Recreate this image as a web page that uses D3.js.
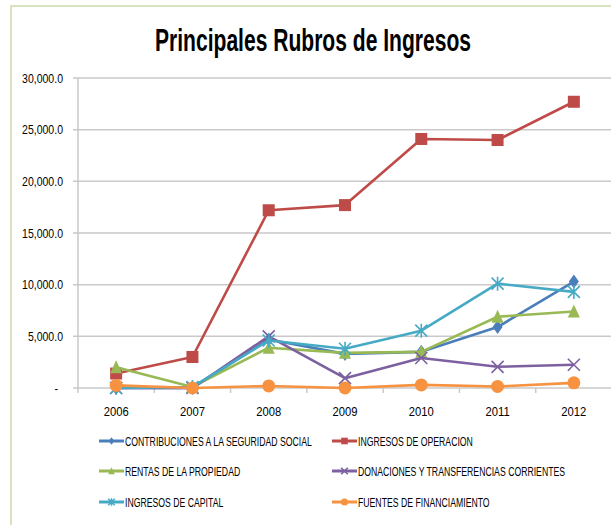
<!DOCTYPE html>
<html><head><meta charset="utf-8">
<script src="https://cdn.jsdelivr.net/npm/d3@7"></script>
<style>
body{margin:0;background:#fff;}
svg{display:block;}
</style></head>
<body>
<svg id="chart" width="611" height="525"></svg>
<script>
const years = ["2006","2007","2008","2009","2010","2011","2012"];
const seriesNames = [
  "CONTRIBUCIONES A LA SEGURIDAD SOCIAL",
  "INGRESOS DE OPERACION",
  "RENTAS DE LA PROPIEDAD",
  "DONACIONES Y TRANSFERENCIAS CORRIENTES",
  "INGRESOS DE CAPITAL",
  "FUENTES DE FINANCIAMIENTO"
];
const contribuciones = [0, 0, 4700, 3300, 3500, 5900, 10300];
const operacion      = [1400, 3000, 17200, 17700, 24100, 24000, 27700];
const rentas         = [2000, 100, 3900, 3400, 3500, 6900, 7400];
const donaciones     = [0, 0, 5000, 950, 2900, 2050, 2250];
const capital        = [0, 100, 4600, 3800, 5550, 10100, 9300];
const fuentes        = [250, 0, 200, 0, 300, 150, 500];
const yTicks = [0, 5000, 10000, 15000, 20000, 25000, 30000];
const colors = ["#4A7EBB", "#BE4B48", "#98B954", "#7D60A0", "#46AAC5", "#F69240"];
const markers = ["diamond", "square", "triangle", "x", "star", "circle"];
const seriesValues = [contribuciones, operacion, rentas, donaciones, capital, fuentes];

(function () {
const svg = d3.select("#chart");
const font = "'Liberation Sans',Arial,sans-serif";

// squeeze text horizontally (narrow-font look) using a transform
function squeeze(sel, factor) {
  sel.each(function () {
    const X = +this.getAttribute("x"), Y = +this.getAttribute("y");
    this.setAttribute("x", 0);
    this.setAttribute("y", 0);
    this.setAttribute("transform", `translate(${X},${Y}) scale(${factor.toFixed(4)},1)`);
  });
}

// frame
svg.append("rect").attr("x", 11).attr("y", 6).attr("width", 640).attr("height", 560)
  .attr("fill", "none").attr("stroke", "#d7e4bd").attr("stroke-width", 2);

// title
const title = svg.append("text").attr("x", 313).attr("y", 51).attr("text-anchor", "middle")
  .style("font-family", font).style("font-weight", "bold").style("font-size", "31px")
  .attr("fill", "#000").text("Principales Rubros de Ingresos");
squeeze(title, 316 / title.node().getComputedTextLength());

const pl = 78, pr = 612, pt = 78, pb = 388;
const x = d3.scaleBand().domain(years).range([pl, pr]);
const y = d3.scaleLinear().domain([0, 30000]).range([pb, pt]);

svg.append("g").selectAll("line").data(yTicks).join("line")
  .attr("x1", pl - 5).attr("x2", pr).attr("y1", d => y(d)).attr("y2", d => y(d))
  .attr("stroke", "#c9c9c9").attr("stroke-width", 1.5);

svg.append("line").attr("x1", pl).attr("x2", pl).attr("y1", pt).attr("y2", pb)
  .attr("stroke", "#c9c9c9").attr("stroke-width", 1.5);

const fmt = d => d === 0 ? "-" : d3.format(",.1f")(d);
const yl = svg.append("g").selectAll("text").data(yTicks).join("text")
  .attr("x", d => d === 0 ? 58 : 63).attr("y", d => y(d) + 4.5)
  .attr("text-anchor", "end").style("font-family", font).style("font-size", "12.5px")
  .attr("fill", "#000").text(fmt);
squeeze(yl, 41 / yl.filter(d => d === 30000).node().getComputedTextLength());

const bounds = years.map(yr => x(yr)).concat([pr]);
svg.append("g").selectAll("line").data(bounds).join("line")
  .attr("x1", d => d).attr("x2", d => d).attr("y1", pb).attr("y2", pb + 5)
  .attr("stroke", "#c9c9c9").attr("stroke-width", 1.5);

const xl = svg.append("g").selectAll("text").data(years).join("text")
  .attr("x", d => x(d) + x.bandwidth() / 2).attr("y", 416)
  .attr("text-anchor", "middle").style("font-family", font).style("font-size", "12.5px")
  .attr("fill", "#000").text(d => d);
squeeze(xl, 25 / xl.node().getComputedTextLength());

function drawMarker(g, type, cx, cy, color, s) {
  s = s || 1;
  if (type === "diamond") {
    g.append("path").attr("d", `M${cx},${cy-7*s}L${cx+5*s},${cy}L${cx},${cy+7*s}L${cx-5*s},${cy}Z`).attr("fill", color);
  } else if (type === "square") {
    g.append("rect").attr("x", cx-6*s).attr("y", cy-6*s).attr("width", 12*s).attr("height", 12*s).attr("fill", color);
  } else if (type === "triangle") {
    g.append("path").attr("d", `M${cx},${cy-7*s}L${cx+6*s},${cy+6*s}L${cx-6*s},${cy+6*s}Z`).attr("fill", color);
  } else if (type === "x") {
    g.append("path").attr("d", `M${cx-6*s},${cy-6*s}L${cx+6*s},${cy+6*s}M${cx+6*s},${cy-6*s}L${cx-6*s},${cy+6*s}`)
      .attr("stroke", color).attr("stroke-width", 1.6).attr("fill", "none");
  } else if (type === "star") {
    g.append("path").attr("d", `M${cx-6*s},${cy-6*s}L${cx+6*s},${cy+6*s}M${cx+6*s},${cy-6*s}L${cx-6*s},${cy+6*s}M${cx},${cy-7*s}L${cx},${cy+7*s}`)
      .attr("stroke", color).attr("stroke-width", 1.6).attr("fill", "none");
  } else if (type === "circle") {
    g.append("circle").attr("cx", cx).attr("cy", cy).attr("r", 6.5*s).attr("fill", color);
  }
}

const line = d3.line().x((d, i) => x(years[i]) + x.bandwidth() / 2).y(d => y(d));
seriesValues.forEach((vals, k) => {
  const g = svg.append("g");
  g.append("path").datum(vals).attr("d", line).attr("fill", "none")
    .attr("stroke", colors[k]).attr("stroke-width", 2.6).attr("stroke-linejoin", "round");
  vals.forEach((v, i) => drawMarker(g, markers[k], x(years[i]) + x.bandwidth() / 2, y(v), colors[k]));
});

const legX = [99, 332], legY = [441, 471, 502];
const legTexts = [];
seriesNames.forEach((name, k) => {
  const lx = legX[k % 2], ly = legY[Math.floor(k / 2)];
  const g = svg.append("g");
  g.append("line").attr("x1", lx).attr("x2", lx + 25).attr("y1", ly).attr("y2", ly)
    .attr("stroke", colors[k]).attr("stroke-width", 3);
  drawMarker(g, markers[k], lx + 12.5, ly, colors[k], 0.55);
  legTexts.push(g.append("text").attr("x", lx + 26).attr("y", ly + 4.5).style("font-family", font)
    .style("font-size", "12px").attr("fill", "#000").text(name).node());
});
const lf = 187 / legTexts[0].getComputedTextLength();
squeeze(d3.selectAll(legTexts), lf);
})();
</script>
</body></html>
